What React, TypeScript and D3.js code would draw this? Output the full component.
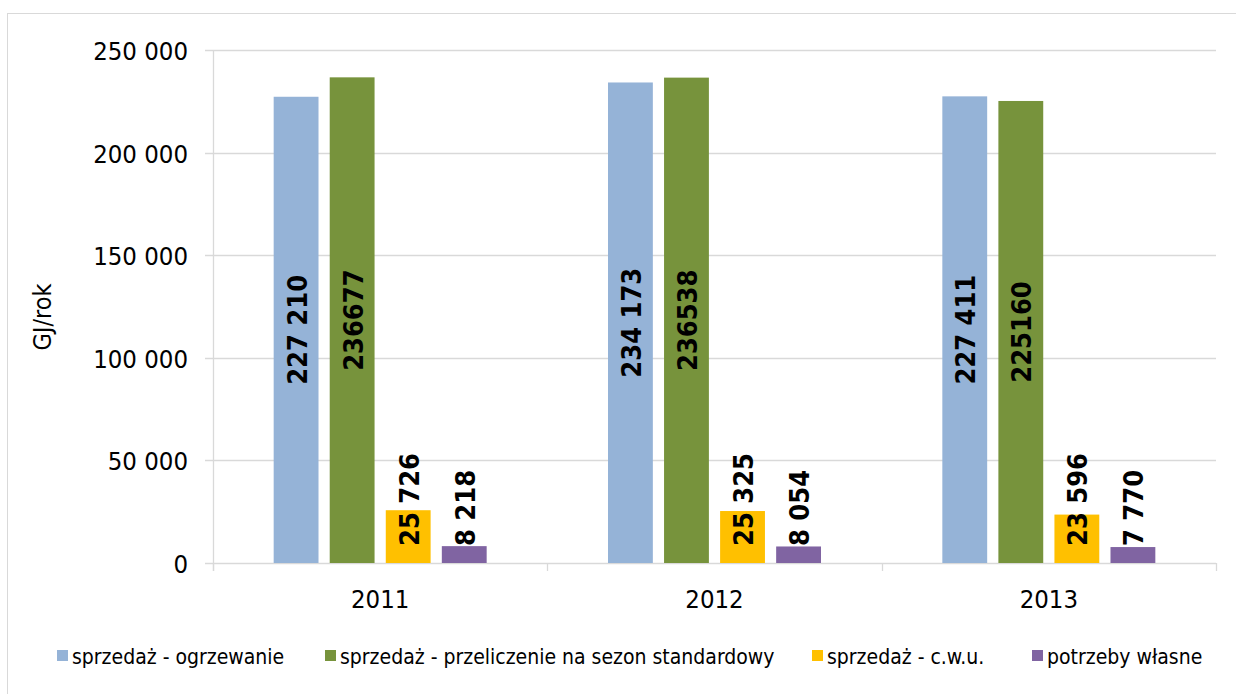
import { useEffect, useRef } from 'react';
import * as d3 from 'd3';

// --- data ---
const years = ['2011', '2012', '2013'];
const seriesNames = [
  'sprzedaż - ogrzewanie',
  'sprzedaż - przeliczenie na sezon standardowy',
  'sprzedaż - c.w.u.',
  'potrzeby własne',
];
const seriesColors = ['#95B3D7', '#77933C', '#FFC000', '#8064A2'];
const heating = [227210, 234173, 227411];
const heatingStd = [236677, 236538, 225160];
const hotWater = [25726, 25325, 23596];
const ownNeeds = [8218, 8054, 7770];
const heatingLabels = ['227 210', '234 173', '227 411'];
const heatingStdLabels = ['236677', '236538', '225160'];
const hotWaterLabels = ['25 726', '25 325', '23 596'];
const ownNeedsLabels = ['8 218', '8 054', '7 770'];
const yTicks = [0, 50000, 100000, 150000, 200000, 250000];
const yTickLabels = ['0', '50 000', '100 000', '150 000', '200 000', '250 000'];
const yTitle = 'GJ/rok';

const W = 1236;
const H = 694;
const FONT = "'DejaVu Sans Condensed', 'DejaVu Sans', sans-serif";

export default function App() {
  const svgRef = useRef<SVGSVGElement>(null);

  useEffect(() => {
    if (!svgRef.current) return;
    const svg = d3.select(svgRef.current);
    svg.selectAll('*').remove();

    const values = [heating, heatingStd, hotWater, ownNeeds];
    const labels = [heatingLabels, heatingStdLabels, hotWaterLabels, ownNeedsLabels];

    const left = 213;
    const right = 1216;
    const top = 50;
    const bottom = 563;

    // outer chart border (right/bottom fall outside the picture)
    svg.append('rect')
      .attr('x', 7.5).attr('y', 13.5)
      .attr('width', W).attr('height', H)
      .attr('fill', 'none')
      .attr('stroke', '#D9D9D9')
      .attr('stroke-width', 1);

    const y = d3.scaleLinear().domain([0, 250000]).range([bottom, top]);
    const x0 = d3.scaleBand<string>().domain(years).range([left, right]).paddingInner(0).paddingOuter(0);
    const groupW = 213;
    const x1 = d3.scaleBand<number>()
      .domain([0, 1, 2, 3])
      .range([0, groupW])
      .paddingInner(0.2);

    // gridlines + y ticks
    yTicks.forEach((t, i) => {
      const yy = Math.round(y(t)) + 0.5;
      svg.append('line')
        .attr('x1', left - 8).attr('x2', right)
        .attr('y1', yy).attr('y2', yy)
        .attr('stroke', '#D9D9D9').attr('stroke-width', 1.3);
      svg.append('text')
        .attr('x', 188)
        .attr('y', yy)
        .attr('text-anchor', 'end')
        .attr('dominant-baseline', 'central')
        .attr('font-family', FONT)
        .attr('font-size', 25.5)
        .attr('fill', '#000')
        .text(yTickLabels[i]);
    });

    // y axis line
    svg.append('line')
      .attr('x1', left + 0.5).attr('x2', left + 0.5)
      .attr('y1', top).attr('y2', bottom + 8)
      .attr('stroke', '#D9D9D9').attr('stroke-width', 1.3);

    // x category ticks
    [...years.map((yr) => x0(yr) as number), right].forEach((xx) => {
      svg.append('line')
        .attr('x1', Math.round(xx) + 0.5).attr('x2', Math.round(xx) + 0.5)
        .attr('y1', bottom).attr('y2', bottom + 8)
        .attr('stroke', '#D9D9D9').attr('stroke-width', 1.3);
    });

    // category labels
    years.forEach((yr) => {
      svg.append('text')
        .attr('x', (x0(yr) as number) + x0.bandwidth() / 2)
        .attr('y', 599)
        .attr('text-anchor', 'middle')
        .attr('dominant-baseline', 'central')
        .attr('font-family', FONT)
        .attr('font-size', 25.5)
        .attr('fill', '#000')
        .text(yr);
    });

    // y title
    svg.append('text')
      .attr('transform', `translate(42, 317) rotate(-90)`)
      .attr('text-anchor', 'middle')
      .attr('dominant-baseline', 'central')
      .attr('font-family', FONT)
      .attr('font-size', 25)
      .attr('fill', '#000')
      .text(yTitle);

    // bars
    years.forEach((yr, yi) => {
      const gx = (x0(yr) as number) + (x0.bandwidth() - groupW) / 2;
      values.forEach((vals, si) => {
        const v = vals[yi];
        const bx = gx + (x1(si) as number);
        const bw = x1.bandwidth();
        svg.append('rect')
          .attr('x', bx).attr('y', y(v))
          .attr('width', bw).attr('height', y(0) - y(v))
          .attr('fill', seriesColors[si]);
      });
    });

    // data labels (after bars so they sit on top)
    years.forEach((yr, yi) => {
      const gx = (x0(yr) as number) + (x0.bandwidth() - groupW) / 2;
      values.forEach((vals, si) => {
        const v = vals[yi];
        const cx = gx + (x1(si) as number) + x1.bandwidth() / 2;
        const t = svg.append('text')
          .attr('text-anchor', 'middle')
          .attr('dominant-baseline', 'central')
          .attr('font-family', FONT)
          .attr('font-size', 27)
          .attr('font-weight', 'bold')
          .attr('fill', '#000')
          .text(labels[si][yi]);
        const len = (t.node() as SVGTextElement).getComputedTextLength();
        let cy = (y(v) + y(0)) / 2;
        const limit = y(0) - 17;
        if (cy + len / 2 > limit) cy = limit - len / 2;
        t.attr('transform', `translate(${cx + 1}, ${cy}) rotate(-90)`);
      });
    });

    // legend
    const legendX = [57, 325, 812, 1032];
    seriesNames.forEach((name, i) => {
      svg.append('rect')
        .attr('x', legendX[i]).attr('y', 650)
        .attr('width', 11).attr('height', 11)
        .attr('fill', seriesColors[i]);
      svg.append('text')
        .attr('x', legendX[i] + 15)
        .attr('y', 664)
        .attr('font-family', FONT)
        .attr('font-size', 21)
        .attr('fill', '#000')
        .text(name);
    });
  }, []);

  return (
    <svg
      ref={svgRef}
      width={W}
      height={H}
      style={{ position: 'absolute', left: 0, top: 0, background: '#fff' }}
    />
  );
}
